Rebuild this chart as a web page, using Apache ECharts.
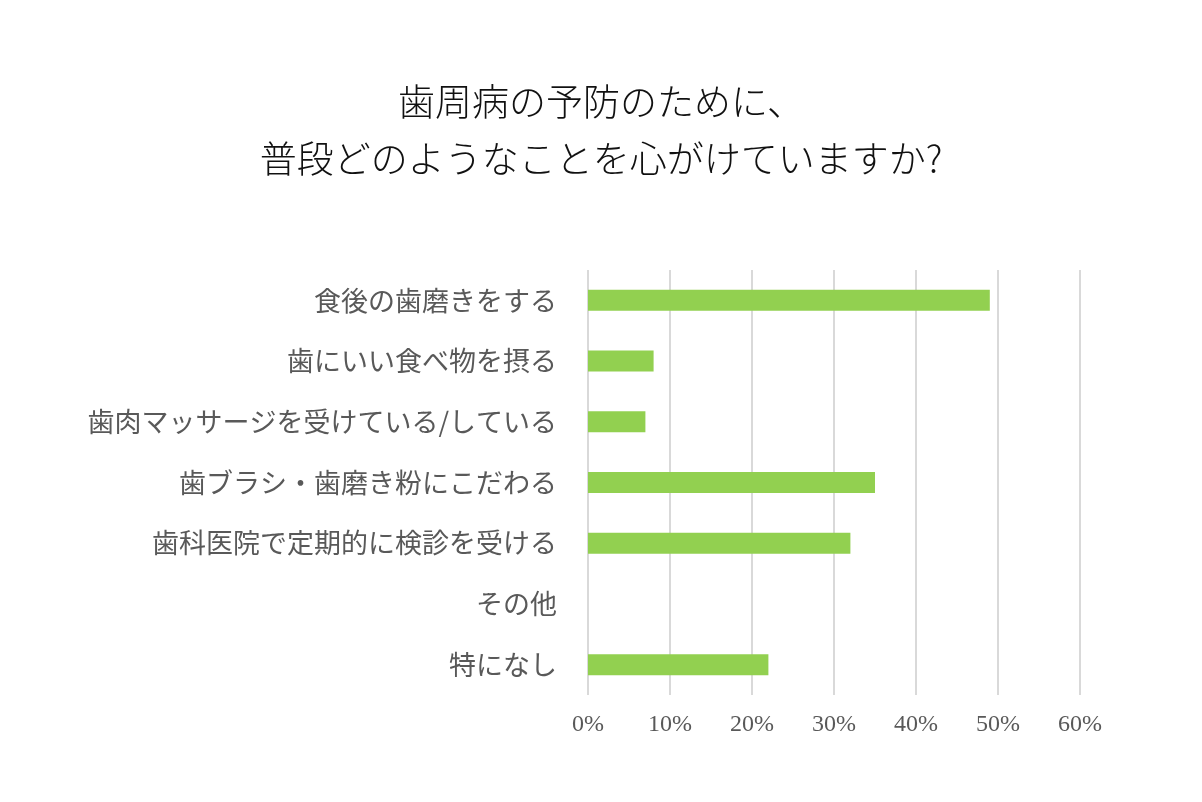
<!DOCTYPE html>
<html>
<head>
<meta charset="utf-8">
<script src="https://cdn.jsdelivr.net/npm/echarts@6/dist/echarts.min.js"></script>
<style>
html,body{margin:0;padding:0;background:#fff;}
#main{width:1202px;height:802px;}
</style>
</head>
<body>
<div id="main"></div>
<script>
const titleLines = ['歯周病の予防のために、', '普段どのようなことを心がけていますか?'];
const categories = ['食後の歯磨きをする', '歯にいい食べ物を摂る', '歯肉マッサージを受けている/している', '歯ブラシ・歯磨き粉にこだわる', '歯科医院で定期的に検診を受ける', 'その他', '特になし'];
const values = [49, 8, 7, 35, 32, 0, 22];
const xTicks = [0, 10, 20, 30, 40, 50, 60];

const chart = echarts.init(document.getElementById('main'), null, {renderer: 'canvas'});
chart.setOption({
  backgroundColor: '#ffffff',
  animation: false,
  title: {
    text: titleLines.join('\n'),
    left: 'center',
    top: 68,
    textStyle: {
      fontFamily: '"Noto Sans CJK JP"',
      fontSize: 37,
      fontWeight: 300,
      color: '#111111',
      lineHeight: 57
    }
  },
  grid: {left: 588, right: 122, top: 270, bottom: 107, containLabel: false},
  xAxis: {
    type: 'value',
    min: xTicks[0],
    max: xTicks[xTicks.length - 1],
    interval: 10,
    axisLine: {show: false},
    axisTick: {show: false},
    splitLine: {lineStyle: {color: '#d9d9d9', width: 2}},
    axisLabel: {
      formatter: v => v + '%',
      color: '#595959',
      fontFamily: '"Liberation Serif", "DejaVu Serif", serif',
      fontSize: 24,
      margin: 18
    }
  },
  yAxis: {
    type: 'category',
    data: categories,
    inverse: true,
    axisLine: {show: false},
    axisTick: {show: false},
    splitLine: {show: false},
    axisLabel: {
      color: '#595959',
      fontFamily: '"Noto Sans CJK JP"',
      fontSize: 27,
      margin: 31
    }
  },
  series: [{
    type: 'bar',
    data: values,
    barWidth: 21,
    itemStyle: {color: '#92d050'}
  }]
});
</script>
</body>
</html>
